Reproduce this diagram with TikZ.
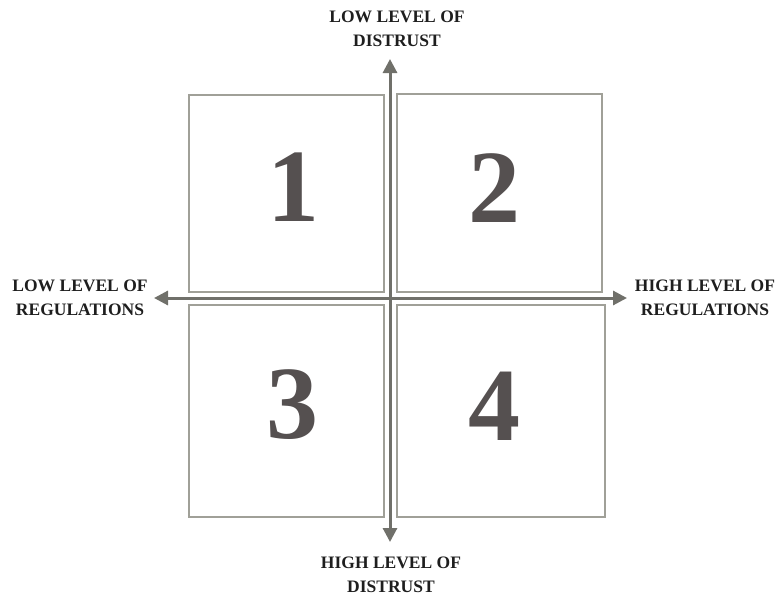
\documentclass[tikz,border=0pt]{standalone}
\usepackage{fontspec}
\setmainfont{Liberation Serif}
\usepackage{tikz}
\usetikzlibrary{arrows.meta, positioning}
\definecolor{axis-gray}{RGB}{112,112,106}
\definecolor{box-gray}{RGB}{160,160,152}
\definecolor{num-gray}{RGB}{85,80,80}
\definecolor{txt-dark}{RGB}{30,30,30}

\begin{document}
\begin{tikzpicture}[
    x=1pt, y=-1pt,
    quad/.style={rectangle, draw=box-gray, line width=1.4pt, inner sep=0pt},
    num/.style={font=\fontsize{104}{104}\selectfont\bfseries, text=num-gray, inner sep=0pt},
    axlabel/.style={font=\fontsize{17.5}{24}\selectfont\bfseries, text=txt-dark, align=center, inner sep=0pt},
    axis/.style={-{Triangle[width=14pt,length=14pt]}, line width=3pt, color=axis-gray}
]
    \useasboundingbox (0,0) rectangle (779,597);

    % Quadrants
    \node[quad, minimum width=195pt, minimum height=197pt] (b1) at (286.5,193.5) {};
    \node[quad, minimum width=205pt, minimum height=198pt] (b2) at (499.5,193) {};
    \node[quad, minimum width=195pt, minimum height=212pt] (b3) at (286.5,411) {};
    \node[quad, minimum width=208pt, minimum height=212pt] (b4) at (501,411) {};

    \node[num] (n1) at (293,187) {1};
    \node[num] (n2) at (494,188) {2};
    \node[num] (n3) at (292,405) {3};
    \node[num] (n4) at (494,406) {4};

    % Axes
    \coordinate (o) at (390,298);
    \coordinate (up) at (390,59);
    \coordinate (down) at (390,542);
    \coordinate (left) at (154,298);
    \coordinate (right) at (627,298);

    \draw[axis] (o) -- (up);
    \draw[axis] (o) -- (down);
    \draw[axis] (o) -- (left);
    \draw[axis] (o) -- (right);

    % Labels
    \node[axlabel] (ltop) at (397,29) {LOW LEVEL OF\\DISTRUST};
    \node[axlabel] (lbot) at (391,575) {HIGH LEVEL OF\\DISTRUST};
    \node[axlabel] (lleft) at (80,298) {LOW LEVEL OF\\REGULATIONS};
    \node[axlabel] (lright) at (705,298) {HIGH LEVEL OF\\REGULATIONS};
\end{tikzpicture}
\end{document}
